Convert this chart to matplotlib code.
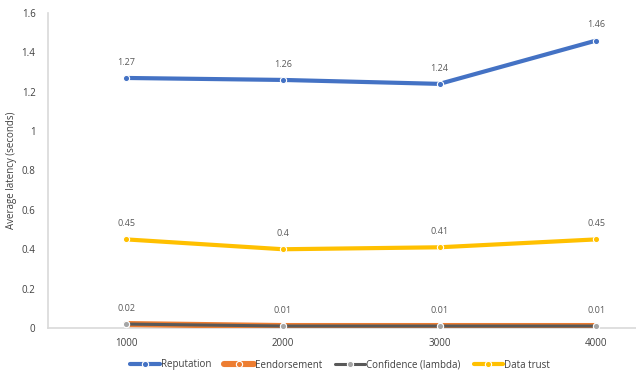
import matplotlib.pyplot as plt

# series data
sizes = ["1000", "2000", "3000", "4000"]
reputation = [1.27, 1.26, 1.24, 1.46]
endorsement = [0.02, 0.01, 0.01, 0.01]
confidence = [0.02, 0.01, 0.01, 0.01]
data_trust = [0.45, 0.40, 0.41, 0.45]

plt.rcParams['font.family'] = ['Open Sans', 'DejaVu Sans']

fig = plt.figure(figsize=(6.36, 3.78), dpi=100)
W, H = 636, 378
ax = fig.add_axes([48 / W, 1 - 328 / H, (636 - 48) / W, (328 - 13) / H])

x = list(range(len(sizes)))
label_col = "#595959"

# name, values, line colour, marker colour, width, labelled
series = [
    ("Reputation", reputation, "#4472C4", "#4472C4", 3.0, True),
    ("Eendorsement", endorsement, "#ED7D31", "#ED7D31", 4.4, False),
    ("Confidence (lambda)", confidence, "#595959", "#A5A5A5", 2.2, True),
    ("Data trust", data_trust, "#FFC000", "#FFC000", 3.0, True),
]

for name, vals, col, mcol, lw, show_labels in series:
    ax.plot(x, vals, color=col, lw=lw, marker="o", ms=4.5,
            markerfacecolor=mcol, markeredgecolor="white", markeredgewidth=0.8,
            label=name, solid_capstyle="round", zorder=3)
    if show_labels:
        for xi, v in zip(x, vals):
            ax.annotate(f"{v:g}", (xi, v), xytext=(0, 8), textcoords="offset points",
                        ha="center", va="bottom", fontsize=6.5, color=label_col)

ax.set_xlim(-0.5, (636 - 126) / 156.7)
ax.set_ylim(0, 1.6)
ax.set_yticks([0, 0.2, 0.4, 0.6, 0.8, 1, 1.2, 1.4, 1.6])
ax.set_yticklabels(["0", "0.2", "0.4", "0.6", "0.8", "1", "1.2", "1.4", "1.6"])
ax.set_xticks(x)
ax.set_xticklabels(sizes)
ax.tick_params(axis="y", length=0, labelsize=7, colors="#404040", pad=9)
ax.tick_params(axis="x", length=0, labelsize=7, colors="#404040", pad=7)

for side in ["top", "right"]:
    ax.spines[side].set_visible(False)
for side in ["left", "bottom"]:
    ax.spines[side].set_color("#D9D9D9")
    ax.spines[side].set_linewidth(1.2)

ax.set_ylabel("Average latency (seconds)", fontsize=7, color="#404040", labelpad=3)

fig.legend(loc="center", bbox_to_anchor=(340 / W, 1 - 365 / H), ncol=4,
           frameon=False, fontsize=7, handlelength=3, columnspacing=1.4,
           handletextpad=0.1, labelcolor="#404040")

fig.savefig("out.png", dpi=100)
